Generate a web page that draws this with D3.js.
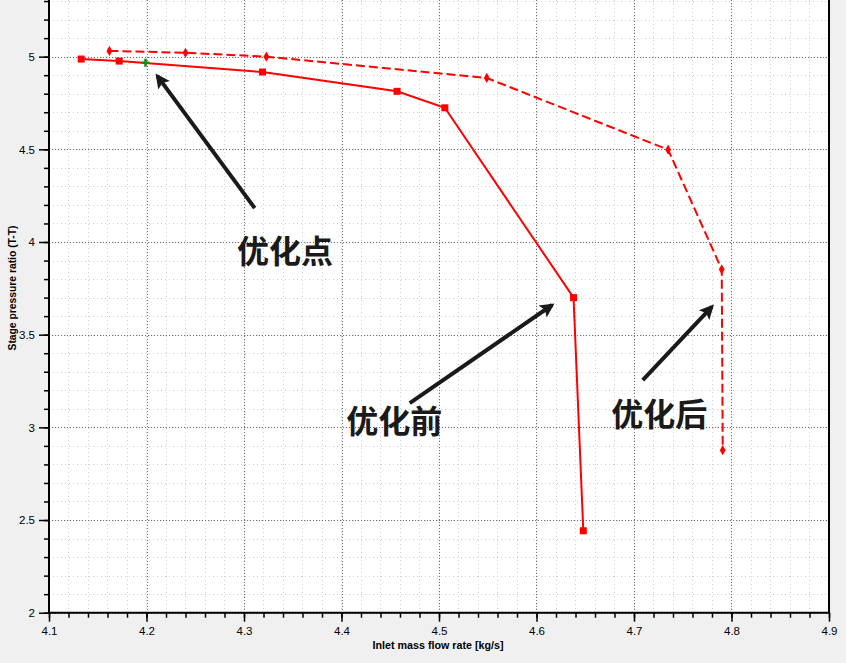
<!DOCTYPE html>
<html>
<head>
<meta charset="utf-8">
<script src="https://cdn.jsdelivr.net/npm/d3@7"></script>
<style>
    html, body { margin: 0; padding: 0; background: #f0f0f0; }
    svg { display: block; }
</style>
</head>
<body>
<div id="chart"></div>
<script>
// before optimisation (solid line, square markers)
var beforeFlow = [4.133, 4.172, 4.319, 4.457, 4.506, 4.638, 4.648];
var beforeRatio = [4.987, 4.976, 4.917, 4.813, 4.724, 3.700, 2.442];
// after optimisation (dashed line, small markers)
var afterFlow = [4.162, 4.240, 4.323, 4.549, 4.735, 4.790, 4.791];
var afterRatio = [5.031, 5.021, 5.000, 4.885, 4.498, 3.852, 2.877];
// design point
var pointFlow = [4.199];
var pointRatio = [4.967];

var xTicks = [4.1, 4.2, 4.3, 4.4, 4.5, 4.6, 4.7, 4.8, 4.9];
var yTicks = [2, 2.5, 3, 3.5, 4, 4.5, 5];

// annotations: label text, label centre, arrow tail and tip in data units
var noteText = ['优化点', '优化前', '优化后'];
var noteAt = [[4.342, 3.962], [4.454, 3.045], [4.726, 3.083]];
var arrowFrom = [[4.311, 4.183], [4.470, 3.131], [4.709, 3.255]];
var arrowTo = [[4.211, 4.896], [4.616, 3.660], [4.780, 3.651]];

var width = 846, height = 663;
var left = 49, right = 829, bottom = 612.7;

var svg = d3.select('#chart').append('svg')
    .attr('width', width)
    .attr('height', height);

var x = d3.scaleLinear().domain([4.1, 4.9]).range([left, right]);
var y = d3.scaleLinear().domain([2, 5.4]).range([bottom, bottom - 3.4 * 185.35]);

var xMinor = d3.range(4.1, 4.9001, 0.02);
var yMinor = d3.range(2, 5.4001, 0.1);

svg.append('rect')
    .attr('x', left).attr('y', 0)
    .attr('width', right - left).attr('height', bottom)
    .attr('fill', '#ffffff');

var grid = svg.append('g').attr('class', 'grid');
grid.selectAll('line.vminor').data(xMinor).enter().append('line')
    .attr('x1', function (d) { return Math.round(x(d)) + 0.5; })
    .attr('x2', function (d) { return Math.round(x(d)) + 0.5; })
    .attr('y1', 0).attr('y2', bottom)
    .attr('stroke', '#cfcfcf').attr('stroke-dasharray', '1,3');
grid.selectAll('line.hminor').data(yMinor).enter().append('line')
    .attr('y1', function (d) { return Math.round(y(d)) + 0.5; })
    .attr('y2', function (d) { return Math.round(y(d)) + 0.5; })
    .attr('x1', left).attr('x2', right)
    .attr('stroke', '#cfcfcf').attr('stroke-dasharray', '1,3');
grid.selectAll('line.vmajor').data(xTicks).enter().append('line')
    .attr('x1', function (d) { return Math.round(x(d)) + 0.5; })
    .attr('x2', function (d) { return Math.round(x(d)) + 0.5; })
    .attr('y1', 0).attr('y2', bottom)
    .attr('stroke', '#6e6e6e').attr('stroke-dasharray', '1,2');
grid.selectAll('line.hmajor').data(yTicks).enter().append('line')
    .attr('y1', function (d) { return Math.round(y(d)) + 0.5; })
    .attr('y2', function (d) { return Math.round(y(d)) + 0.5; })
    .attr('x1', left).attr('x2', right)
    .attr('stroke', '#6e6e6e').attr('stroke-dasharray', '1,2');

// axes
var tickFont = '"Liberation Sans", Arial, sans-serif';

var xMinorAxis = svg.append('g')
    .attr('transform', 'translate(0,' + bottom + ')')
    .call(d3.axisBottom(x).tickValues(xMinor).tickSize(5).tickFormat(''));
var xAxis = svg.append('g')
    .attr('transform', 'translate(0,' + bottom + ')')
    .call(d3.axisBottom(x).tickValues(xTicks).tickSize(9).tickPadding(5).tickFormat(d3.format('.1f')));
var yMinorAxis = svg.append('g')
    .attr('transform', 'translate(' + left + ',0)')
    .call(d3.axisLeft(y).tickValues(yMinor.filter(function (d) { return d < 5.35; })).tickSize(5).tickFormat(''));
var yAxis = svg.append('g')
    .attr('transform', 'translate(' + left + ',0)')
    .call(d3.axisLeft(y).tickValues(yTicks).tickSize(10).tickPadding(4).tickFormat(function (d) { return String(d); }));

[xMinorAxis, xAxis, yMinorAxis, yAxis].forEach(function (g) {
    g.select('.domain').remove();
    g.selectAll('.tick line').attr('stroke', '#000').attr('stroke-width', 1.5);
    g.selectAll('text')
        .style('font-family', tickFont)
        .style('font-size', '11.5px')
        .attr('fill', '#000');
});

svg.append('line')
    .attr('x1', left).attr('x2', left).attr('y1', 0).attr('y2', bottom + 1)
    .attr('stroke', '#000').attr('stroke-width', 2);
svg.append('line')
    .attr('x1', left - 1).attr('x2', right + 1).attr('y1', bottom).attr('y2', bottom)
    .attr('stroke', '#000').attr('stroke-width', 2);
svg.append('line')
    .attr('x1', right).attr('x2', right).attr('y1', 0).attr('y2', bottom)
    .attr('stroke', '#000').attr('stroke-width', 2);

svg.append('text')
    .attr('x', 438).attr('y', 649)
    .attr('text-anchor', 'middle')
    .attr('textLength', 131).attr('lengthAdjust', 'spacingAndGlyphs')
    .style('font-family', tickFont).style('font-size', '11px').style('font-weight', 'bold')
    .attr('fill', '#000')
    .text('Inlet mass flow rate [kg/s]');
svg.append('text')
    .attr('transform', 'translate(16,288) rotate(-90)')
    .attr('text-anchor', 'middle')
    .attr('textLength', 125).attr('lengthAdjust', 'spacingAndGlyphs')
    .style('font-family', tickFont).style('font-size', '11px').style('font-weight', 'bold')
    .attr('fill', '#000')
    .text('Stage pressure ratio (T-T)');

// series
function pairs(xs, ys) {
    return xs.map(function (d, i) { return [d, ys[i]]; });
}
var line = d3.line()
    .x(function (d) { return x(d[0]); })
    .y(function (d) { return y(d[1]); });

var before = pairs(beforeFlow, beforeRatio);
var after = pairs(afterFlow, afterRatio);

svg.append('path').datum(after)
    .attr('d', line)
    .attr('fill', 'none').attr('stroke', '#ff0000').attr('stroke-width', 2)
    .attr('stroke-dasharray', '9,4');
svg.append('path').datum(before)
    .attr('d', line)
    .attr('fill', 'none').attr('stroke', '#ff0000').attr('stroke-width', 2);

svg.selectAll('rect.sq').data(before).enter().append('rect')
    .attr('x', function (d) { return x(d[0]) - 3.5; })
    .attr('y', function (d) { return y(d[1]) - 3.5; })
    .attr('width', 7).attr('height', 7)
    .attr('fill', '#ff0000');

var diamond = d3.symbol().type(d3.symbolDiamond).size(30);
var cross = d3.symbol().type(d3.symbolCross).size(34);
svg.selectAll('path.dm').data(after).enter().append('path')
    .attr('transform', function (d) { return 'translate(' + x(d[0]) + ',' + y(d[1]) + ')'; })
    .attr('d', diamond)
    .attr('fill', '#ff0000');
svg.selectAll('path.pt').data(pairs(pointFlow, pointRatio)).enter().append('path')
    .attr('transform', function (d) { return 'translate(' + x(d[0]) + ',' + y(d[1]) + ')'; })
    .attr('d', cross)
    .attr('fill', '#1a8a1a');

// annotations
var defs = svg.append('defs');
defs.append('marker')
    .attr('id', 'head')
    .attr('viewBox', '0 0 10 10')
    .attr('refX', 8).attr('refY', 5)
    .attr('markerWidth', 4).attr('markerHeight', 3.6)
    .attr('orient', 'auto')
    .append('path')
    .attr('d', 'M0,0 L10,5 L0,10 L2,5 Z')
    .attr('fill', '#1a1a1a');

noteText.forEach(function (t, i) {
    svg.append('line')
        .attr('x1', x(arrowFrom[i][0])).attr('y1', y(arrowFrom[i][1]))
        .attr('x2', x(arrowTo[i][0])).attr('y2', y(arrowTo[i][1]))
        .attr('stroke', '#1a1a1a').attr('stroke-width', 4)
        .attr('marker-end', 'url(#head)');
    svg.append('text')
        .attr('x', x(noteAt[i][0])).attr('y', y(noteAt[i][1]))
        .attr('text-anchor', 'middle')
        .attr('dominant-baseline', 'central')
        .style('font-family', '"Noto Sans CJK SC", sans-serif')
        .style('font-size', '32px').style('font-weight', 'bold')
        .attr('fill', '#1a1a1a')
        .text(t);
});
</script>
</body>
</html>
